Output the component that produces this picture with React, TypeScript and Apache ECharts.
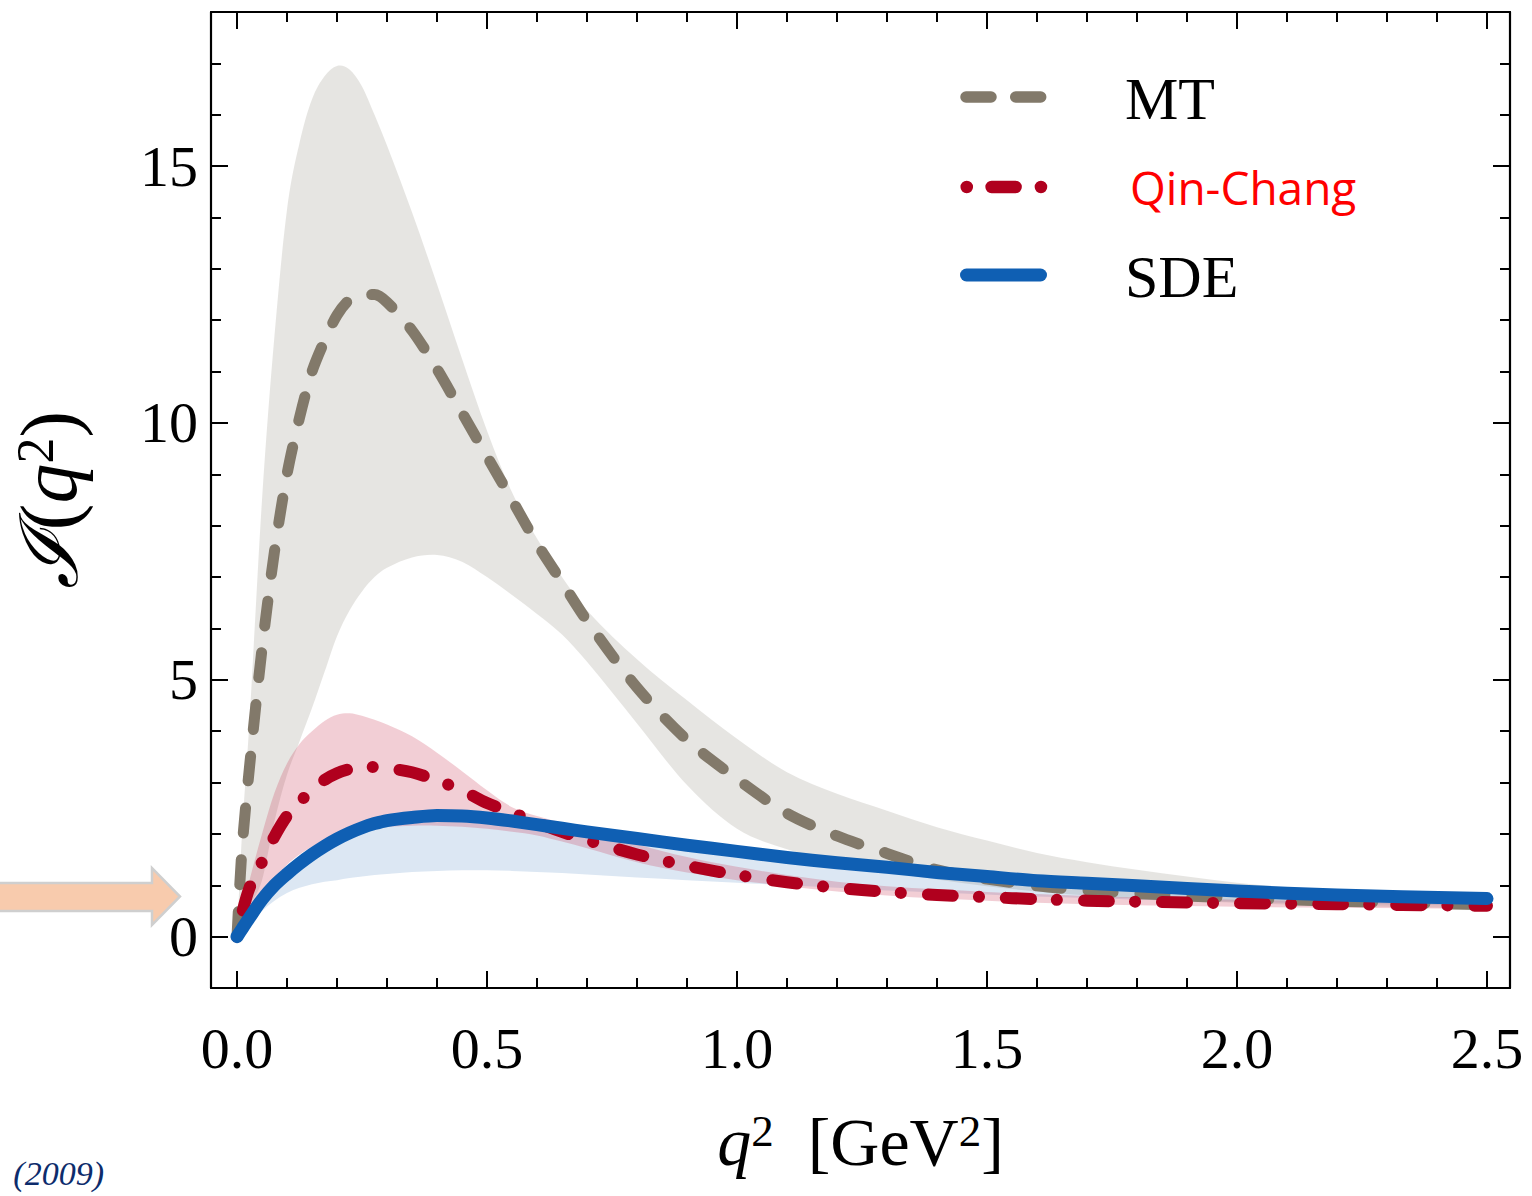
import React, { useEffect, useRef } from "react";
import * as echarts from "echarts";

// q^2 grid (GeV^2)
const X = [0, 0.01, 0.025, 0.05, 0.075, 0.1, 0.125, 0.15, 0.175, 0.2, 0.225, 0.25, 0.275, 0.3, 0.35, 0.4, 0.45, 0.5, 0.55, 0.6, 0.65, 0.7, 0.8, 0.9, 1.0, 1.1, 1.2, 1.3, 1.4, 1.5, 1.6, 1.7, 1.8, 2.0, 2.2, 2.5];

// MT
const mtCentral = [0, 1.7, 3.3, 5.6, 7.5, 9.0, 10.1, 11.0, 11.6, 12.1, 12.4, 12.5, 12.5, 12.35, 11.8, 11.05, 10.2, 9.35, 8.5, 7.65, 6.9, 6.15, 4.85, 3.83, 3.07, 2.4, 1.96, 1.62, 1.3, 1.12, 0.99, 0.9, 0.84, 0.75, 0.69, 0.62];
const mtUpper = [0, 2.0, 4.2, 8.5, 11.7, 14.15, 15.45, 16.3, 16.75, 16.95, 16.88, 16.55, 16.0, 15.4, 14.1, 12.7, 11.25, 9.85, 8.65, 7.75, 7.0, 6.35, 5.4, 4.6, 3.85, 3.2, 2.78, 2.45, 2.13, 1.87, 1.63, 1.45, 1.3, 1.05, 0.88, 0.72];
const mtLower = [0, 0.3, 0.6, 1.1, 2.25, 3.15, 3.8, 4.45, 5.15, 5.85, 6.35, 6.72, 7.0, 7.18, 7.38, 7.43, 7.3, 7.0, 6.65, 6.28, 5.88, 5.35, 4.15, 2.95, 2.1, 1.7, 1.45, 1.27, 1.11, 0.98, 0.88, 0.8, 0.74, 0.66, 0.6, 0.55];

// Qin-Chang
const qcCentral = [0, 0.45, 0.95, 1.45, 1.95, 2.35, 2.62, 2.85, 3.05, 3.18, 3.26, 3.3, 3.3, 3.28, 3.2, 3.04, 2.85, 2.6, 2.42, 2.22, 2.04, 1.88, 1.6, 1.38, 1.2, 1.06, 0.95, 0.87, 0.81, 0.77, 0.73, 0.7, 0.68, 0.65, 0.63, 0.6];
const qcUpper = [0, 0.5, 1.1, 2.0, 2.8, 3.37, 3.75, 4.0, 4.2, 4.32, 4.35, 4.3, 4.22, 4.13, 3.9, 3.58, 3.22, 2.85, 2.52, 2.35, 2.22, 2.08, 1.8, 1.55, 1.36, 1.2, 1.07, 0.98, 0.92, 0.87, 0.83, 0.79, 0.76, 0.72, 0.69, 0.66];
const qcLower = [0, 0.15, 0.4, 0.8, 1.12, 1.4, 1.6, 1.75, 1.87, 1.96, 2.03, 2.08, 2.12, 2.14, 2.16, 2.16, 2.14, 2.1, 2.04, 1.97, 1.85, 1.72, 1.45, 1.25, 1.1, 0.98, 0.88, 0.8, 0.74, 0.7, 0.66, 0.63, 0.61, 0.58, 0.56, 0.54];

// SDE
const sdeCentral = [0, 0.15, 0.37, 0.72, 1.0, 1.22, 1.42, 1.6, 1.76, 1.9, 2.02, 2.12, 2.2, 2.26, 2.32, 2.36, 2.35, 2.31, 2.25, 2.18, 2.11, 2.04, 1.91, 1.78, 1.66, 1.54, 1.44, 1.35, 1.25, 1.17, 1.09, 1.04, 0.99, 0.89, 0.81, 0.74];
const sdeUpper = [0, 0.17, 0.41, 0.77, 1.06, 1.28, 1.48, 1.66, 1.82, 1.96, 2.08, 2.18, 2.26, 2.32, 2.38, 2.41, 2.4, 2.36, 2.3, 2.23, 2.16, 2.09, 1.96, 1.83, 1.71, 1.59, 1.49, 1.4, 1.3, 1.22, 1.14, 1.09, 1.04, 0.94, 0.86, 0.79];
const sdeLower = [0, 0.1, 0.25, 0.5, 0.7, 0.85, 0.95, 1.02, 1.07, 1.1, 1.14, 1.17, 1.2, 1.22, 1.26, 1.28, 1.29, 1.29, 1.28, 1.26, 1.24, 1.21, 1.15, 1.1, 1.05, 1.0, 0.95, 0.9, 0.86, 0.82, 0.78, 0.75, 0.72, 0.68, 0.64, 0.6];

// ticks
const xMajor = [0, 0.5, 1.0, 1.5, 2.0, 2.5];
const xMinor = [0.1, 0.2, 0.3, 0.4, 0.6, 0.7, 0.8, 0.9, 1.1, 1.2, 1.3, 1.4, 1.6, 1.7, 1.8, 1.9, 2.1, 2.2, 2.3, 2.4];
const yMajor = [0, 5, 10, 15];
const yMinor = [1, 2, 3, 4, 6, 7, 8, 9, 11, 12, 13, 14, 16, 17];

const X_MIN = -0.052;
const X_MAX = 2.546;
const Y_MIN = -1;
const Y_MAX = 18;

const SERIF = "'Liberation Serif', 'Times New Roman', serif";

const COLORS = {
  mt: "#82796a",
  qc: "#b0001e",
  sde: "#0f5fb3",
  mtBand: "rgba(172,168,158,0.30)",
  qcBand: "rgba(200,50,80,0.24)",
  sdeBand: "rgba(80,135,195,0.20)",
};

const pairs = (arr: number[]) => X.map((x, i) => [x, arr[i]]);

// smooth cubic (Hermite with finite-difference slopes) through pixel points, x monotonic
function splineSegments(pts: number[][]): string {
  const n = pts.length;
  const slope = (i: number) => {
    if (i === 0) return (pts[1][1] - pts[0][1]) / (pts[1][0] - pts[0][0]);
    if (i === n - 1) return (pts[n - 1][1] - pts[n - 2][1]) / (pts[n - 1][0] - pts[n - 2][0]);
    return (pts[i + 1][1] - pts[i - 1][1]) / (pts[i + 1][0] - pts[i - 1][0]);
  };
  let d = "";
  for (let i = 0; i < n - 1; i++) {
    const h = pts[i + 1][0] - pts[i][0];
    const c1x = pts[i][0] + h / 3;
    const c1y = pts[i][1] + (slope(i) * h) / 3;
    const c2x = pts[i + 1][0] - h / 3;
    const c2y = pts[i + 1][1] - (slope(i + 1) * h) / 3;
    d += ` C${c1x.toFixed(2)},${c1y.toFixed(2)} ${c2x.toFixed(2)},${c2y.toFixed(2)} ${pts[i + 1][0].toFixed(2)},${pts[i + 1][1].toFixed(2)}`;
  }
  return d;
}

function bandSeries(name: string, up: number[], lo: number[], color: string, z: number) {
  return {
    name,
    type: "custom",
    coordinateSystem: "cartesian2d",
    xAxisIndex: 0,
    yAxisIndex: 0,
    data: X.map((x, i) => [x, lo[i], up[i]]),
    encode: { x: 0, y: [1, 2] },
    silent: true,
    z,
    renderItem: (params: any, api: any) => {
      if (params.dataIndex !== 0) return null;
      const top = X.map((x, i) => api.coord([x, up[i]]));
      const bot = X.map((x, i) => api.coord([x, lo[i]])).reverse();
      let d = `M${top[0][0].toFixed(2)},${top[0][1].toFixed(2)}`;
      d += splineSegments(top);
      d += ` L${bot[0][0].toFixed(2)},${bot[0][1].toFixed(2)}`;
      d += splineSegments(bot);
      d += " Z";
      return {
        type: "path",
        shape: { pathData: d },
        style: { fill: color, stroke: "none" },
        silent: true,
      };
    },
  };
}

function xAxisDef(position: "top" | "bottom", ticks: number[], len: number, withLine: boolean, withLabels: boolean, withName: boolean) {
  return {
    type: "value",
    position,
    min: X_MIN,
    max: X_MAX,
    axisLine: { show: withLine, onZero: false, lineStyle: { color: "#000", width: 2.2 } },
    axisTick: { show: true, inside: true, length: len, customValues: ticks, lineStyle: { color: "#000", width: 2 } },
    axisLabel: withLabels
      ? {
          show: true,
          customValues: xMajor,
          formatter: (v: number) => v.toFixed(1),
          fontFamily: SERIF,
          fontSize: 58,
          color: "#000",
          margin: 31,
        }
      : { show: false },
    splitLine: { show: false },
    name: withName ? "{i|q}{sup|2}{n|  [GeV}{sup|2}{n|]}" : "",
    nameLocation: "middle",
    nameGap: 120,
    nameTextStyle: {
      rich: {
        i: { fontFamily: SERIF, fontStyle: "italic", fontSize: 68, color: "#000" },
        n: { fontFamily: SERIF, fontSize: 68, color: "#000" },
        sup: { fontFamily: SERIF, fontSize: 45, color: "#000", verticalAlign: "top" },
      },
    },
  };
}

function yAxisDef(position: "left" | "right", ticks: number[], len: number, withLine: boolean, withLabels: boolean, withName: boolean) {
  return {
    type: "value",
    position,
    min: Y_MIN,
    max: Y_MAX,
    axisLine: { show: withLine, onZero: false, lineStyle: { color: "#000", width: 2.2 } },
    axisTick: { show: true, inside: true, length: len, customValues: ticks, lineStyle: { color: "#000", width: 2 } },
    axisLabel: withLabels
      ? {
          show: true,
          customValues: yMajor,
          formatter: (v: number) => String(v),
          fontFamily: SERIF,
          fontSize: 58,
          color: "#000",
          margin: 13,
        }
      : { show: false },
    splitLine: { show: false },
    name: withName ? "{I|ℐ}{n|(}{i|q}{sup|2}{n|)}" : "",
    nameLocation: "middle",
    nameGap: 122,
    nameTextStyle: {
      rich: {
        I: { fontFamily: "'DejaVu Serif', serif", fontStyle: "italic", fontSize: 80, color: "#000" },
        i: { fontFamily: SERIF, fontStyle: "italic", fontSize: 80, color: "#000" },
        n: { fontFamily: SERIF, fontSize: 80, color: "#000" },
        sup: { fontFamily: SERIF, fontSize: 52, color: "#000", verticalAlign: "top" },
      },
    },
  };
}

export default function App() {
  const ref = useRef<HTMLDivElement>(null);

  useEffect(() => {
    if (!ref.current) return;
    const chart = echarts.init(ref.current, undefined, { renderer: "svg" });

    const option: any = {
      animation: false,
      backgroundColor: "#fff",
      grid: { left: 211, right: 22, top: 12, bottom: 208, containLabel: false },
      xAxis: [
        xAxisDef("bottom", xMajor, 17, true, true, true),
        xAxisDef("bottom", xMinor, 10, false, false, false),
        xAxisDef("top", xMajor, 17, true, false, false),
        xAxisDef("top", xMinor, 10, false, false, false),
      ],
      yAxis: [
        yAxisDef("left", yMajor, 17, true, true, true),
        yAxisDef("left", yMinor, 10, false, false, false),
        yAxisDef("right", yMajor, 17, true, false, false),
        yAxisDef("right", yMinor, 10, false, false, false),
      ],
      series: [
        bandSeries("MT band", mtUpper, mtLower, COLORS.mtBand, 2),
        {
          name: "MT",
          type: "line",
          data: pairs(mtCentral),
          smooth: 0.3,
          symbol: "none",
          lineStyle: { color: COLORS.mt, width: 11, type: [25, 27], cap: "round", join: "round" },
          z: 3,
        },
        bandSeries("SDE band", sdeUpper, sdeLower, COLORS.sdeBand, 3),
        bandSeries("Qin-Chang band", qcUpper, qcLower, COLORS.qcBand, 3),
        {
          name: "Qin-Chang",
          type: "line",
          data: pairs(qcCentral),
          smooth: 0.3,
          symbol: "none",
          lineStyle: { color: COLORS.qc, width: 12, type: [0.1, 27, 25, 26], cap: "round", join: "round" },
          z: 4,
        },
        {
          name: "SDE",
          type: "line",
          data: pairs(sdeCentral),
          smooth: 0.3,
          symbol: "none",
          lineStyle: { color: COLORS.sde, width: 13, type: "solid", cap: "round", join: "round" },
          z: 5,
        },
      ],
      graphic: [
        // legend
        {
          type: "line",
          shape: { x1: 966, y1: 97, x2: 1041, y2: 97 },
          style: { stroke: COLORS.mt, lineWidth: 11.5, lineDash: [25, 24.7], lineCap: "round" },
          z: 10,
        },
        {
          type: "text",
          x: 1125,
          y: 99,
          style: { text: "MT", font: `60px ${SERIF}`, fill: "#000", align: "left", verticalAlign: "middle" },
          z: 10,
        },
        {
          type: "line",
          shape: { x1: 966.7, y1: 187, x2: 1043, y2: 187 },
          style: { stroke: COLORS.qc, lineWidth: 12.5, lineDash: [0.1, 24.8, 24, 25.3], lineCap: "round" },
          z: 10,
        },
        {
          type: "text",
          x: 1130,
          y: 187,
          style: { text: "Qin-Chang", font: "46px 'Open Sans', sans-serif", fill: "#ff0000", align: "left", verticalAlign: "middle" },
          z: 10,
        },
        {
          type: "line",
          shape: { x1: 966.5, y1: 275, x2: 1040.5, y2: 275 },
          style: { stroke: COLORS.sde, lineWidth: 13, lineCap: "round" },
          z: 10,
        },
        {
          type: "text",
          x: 1125,
          y: 277,
          style: { text: "SDE", font: `60px ${SERIF}`, fill: "#000", align: "left", verticalAlign: "middle" },
          z: 10,
        },
        // arrow on the left
        {
          type: "polygon",
          shape: {
            points: [
              [-4, 883],
              [152, 883],
              [152, 868],
              [180, 896.5],
              [152, 925],
              [152, 911],
              [-4, 911],
            ],
          },
          style: { fill: "#f8cbad", stroke: "#cfcfcf", lineWidth: 2.5 },
          z: 10,
        },
        // citation fragment at the bottom-left
        {
          type: "text",
          x: 104,
          y: 1156,
          style: {
            text: "(2009)",
            font: `italic 34px ${SERIF}`,
            fill: "#0d2c6c",
            align: "right",
            verticalAlign: "top",
          },
          z: 10,
        },
      ],
    };

    chart.setOption(option);
    return () => chart.dispose();
  }, []);

  return (
    <div
      ref={ref}
      style={{ position: "fixed", left: 0, top: 0, width: 1532, height: 1196, background: "#fff" }}
    />
  );
}
